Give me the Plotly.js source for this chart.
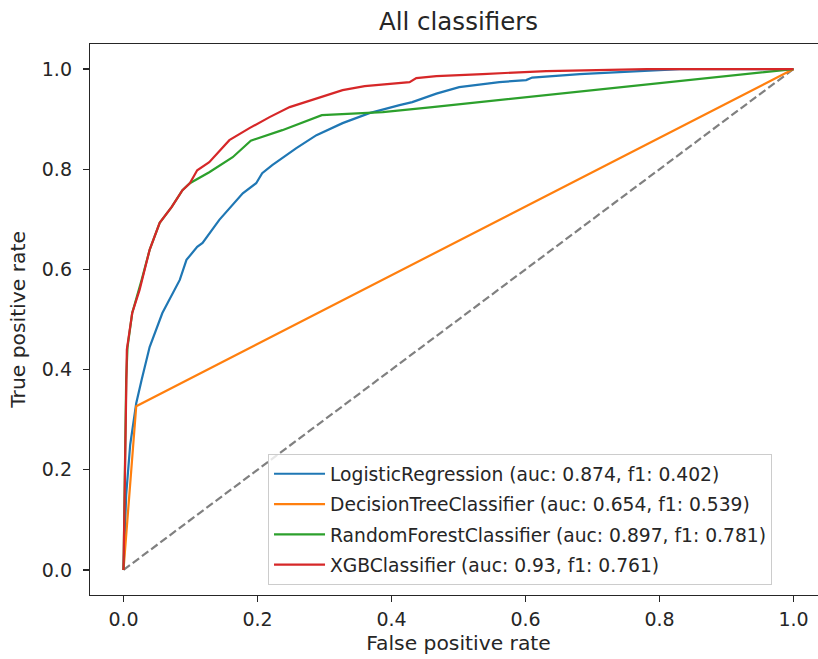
<!DOCTYPE html>
<html>
<head>
<meta charset="utf-8">
<script src="https://cdn.plot.ly/plotly-3.0.1.min.js"></script>
<style>
html, body { margin: 0; padding: 0; overflow: hidden; background: #fff; }
#chart { width: 830px; height: 659px; }
</style>
</head>
<body>
<div id="chart"></div>
<script>
// ROC curves
const lrFpr  = [0, 0.004, 0.010, 0.019, 0.027, 0.039, 0.058, 0.076, 0.084, 0.094, 0.110, 0.118, 0.143, 0.178, 0.198, 0.207, 0.222, 0.258, 0.288, 0.327, 0.367, 0.412, 0.431, 0.467, 0.501, 0.561, 0.601, 0.610, 0.681, 0.755, 0.830, 1.0];
const lrTpr  = [0, 0.150, 0.250, 0.333, 0.379, 0.445, 0.513, 0.559, 0.579, 0.619, 0.645, 0.653, 0.699, 0.752, 0.772, 0.792, 0.808, 0.842, 0.868, 0.892, 0.912, 0.928, 0.934, 0.951, 0.964, 0.974, 0.978, 0.983, 0.990, 0.995, 1.000, 1.0];

const dtFpr  = [0, 0.019, 1.0];
const dtTpr  = [0, 0.327, 1.0];

const rfFpr  = [0, 0.002, 0.004, 0.006, 0.013, 0.027, 0.039, 0.054, 0.072, 0.088, 0.099, 0.128, 0.163, 0.190, 0.237, 0.296, 0.387, 0.461, 0.561, 1.0];
const rfTpr  = [0, 0.200, 0.380, 0.445, 0.513, 0.579, 0.639, 0.693, 0.725, 0.758, 0.772, 0.794, 0.824, 0.857, 0.878, 0.908, 0.914, 0.924, 0.938, 1.0];

const xgbFpr = [0, 0.002, 0.004, 0.005, 0.013, 0.024, 0.039, 0.054, 0.072, 0.088, 0.099, 0.110, 0.128, 0.158, 0.188, 0.218, 0.248, 0.288, 0.327, 0.360, 0.427, 0.437, 0.467, 0.536, 0.631, 0.781, 1.0];
const xgbTpr = [0, 0.200, 0.380, 0.440, 0.513, 0.559, 0.639, 0.693, 0.725, 0.758, 0.772, 0.798, 0.814, 0.858, 0.882, 0.904, 0.924, 0.942, 0.958, 0.966, 0.974, 0.982, 0.986, 0.990, 0.996, 1.000, 1.0];

const chanceX = [0, 1];
const chanceY = [0, 1];

const seriesNames = [
  "LogisticRegression (auc: 0.874, f1: 0.402)",
  "DecisionTreeClassifier (auc: 0.654, f1: 0.539)",
  "RandomForestClassifier (auc: 0.897, f1: 0.781)",
  "XGBClassifier (auc: 0.93, f1: 0.761)"
];
const tickVals = [0, 0.2, 0.4, 0.6, 0.8, 1.0];
const tickText = ["0.0", "0.2", "0.4", "0.6", "0.8", "1.0"];

const colors = ["#1f77b4", "#ff7f0e", "#2ca02c", "#d62728"];
const xs = [lrFpr, dtFpr, rfFpr, xgbFpr];
const ys = [lrTpr, dtTpr, rfTpr, xgbTpr];

const traces = [{
  x: chanceX, y: chanceY, type: "scatter", mode: "lines",
  line: { color: "#808080", width: 2.2, dash: "8px,3.5px" },
  showlegend: false, hoverinfo: "skip"
}];
for (let i = 0; i < 4; i++) {
  traces.push({
    x: xs[i], y: ys[i], type: "scatter", mode: "lines",
    name: seriesNames[i], legendgroup: "g" + i,
    line: { color: colors[i], width: 2.2 }
  });
}

const FAM = "DejaVu Sans, sans-serif";
const TXT = "#262626";
const axisCommon = {
  showgrid: false, zeroline: false, showline: true, mirror: true,
  linecolor: TXT, linewidth: 1.2,
  ticks: "outside", ticklen: 6, tickwidth: 1.2, tickcolor: TXT,
  tickvals: tickVals, ticktext: tickText,
  tickfont: { family: FAM, size: 19, color: TXT }
};

const layout = {
  width: 830, height: 659,
  margin: { l: 90, r: 3, t: 44, b: 64 },
  paper_bgcolor: "#fff", plot_bgcolor: "#fff",
  font: { family: FAM, size: 19, color: TXT },
  title: {
    text: "All classifiers",
    font: { family: FAM, size: 24.5, color: TXT },
    x: 0.5, xref: "paper", xanchor: "center",
    y: 1 - 21 / 659, yref: "container", yanchor: "middle"
  },
  xaxis: Object.assign({}, axisCommon, {
    range: [-0.05, 1.05],
    ticklabelstandoff: 1,
    title: { text: "False positive rate", font: { family: FAM, size: 20.3, color: TXT }, standoff: 6 }
  }),
  yaxis: Object.assign({}, axisCommon, {
    range: [-0.05, 1.05],
    ticklabelstandoff: 7,
    title: { text: "True positive rate", font: { family: FAM, size: 20.3, color: TXT }, standoff: 10 }
  }),
  legend: {
    x: 0.9254, xanchor: "right", xref: "paper",
    y: 0.018, yanchor: "bottom", yref: "paper",
    bgcolor: "rgba(255,255,255,0.8)", bordercolor: "#cccccc", borderwidth: 1,
    font: { family: FAM, size: 18.7, color: TXT },
    traceorder: "grouped", tracegroupgap: 3,
    itemwidth: 51,
    entrywidth: 450, entrywidthmode: "pixels"
  },
  showlegend: true
};

Plotly.newPlot("chart", traces, layout, { displayModeBar: false, staticPlot: true });
</script>
</body>
</html>
